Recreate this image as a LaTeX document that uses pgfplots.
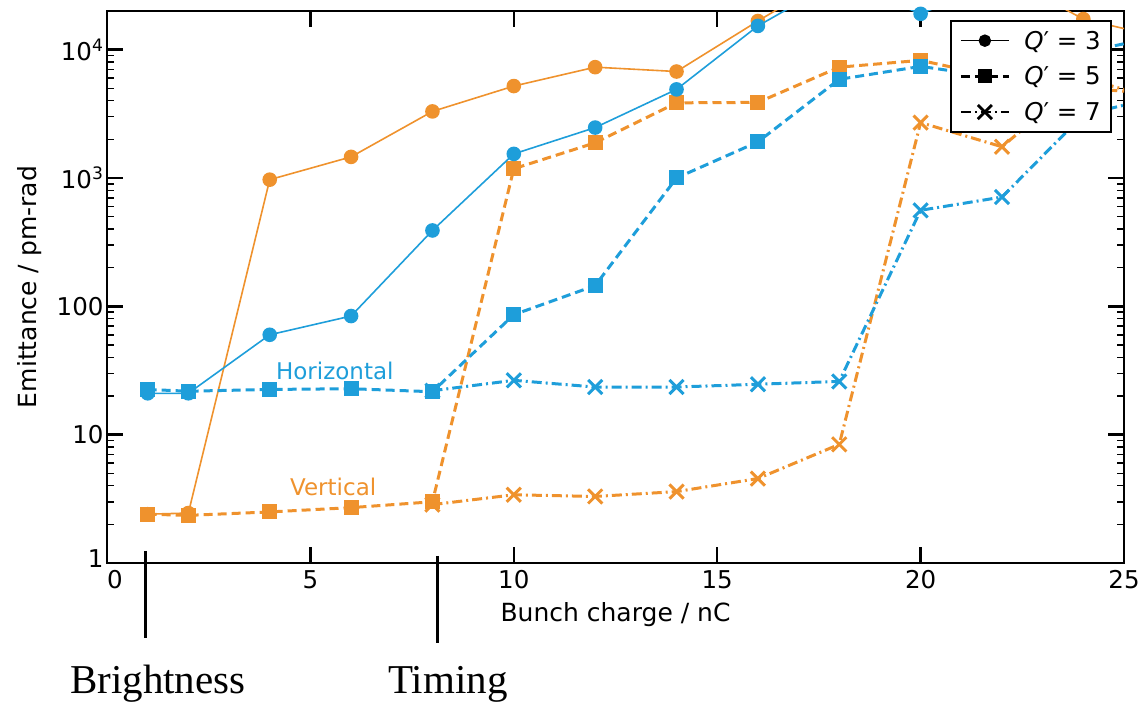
\documentclass[border=0pt]{standalone}
\usepackage{fontspec}
\setmainfont{DejaVu Sans}
\newfontfamily\timesfont{Liberation Serif}
\usepackage{pgfplots}
\pgfplotsset{compat=1.18}
\definecolor{hblue}{RGB}{30,158,218}
\definecolor{vorange}{RGB}{239,146,45}
\newcommand\ff{\fontsize{23}{27}\selectfont}
\newcommand\ft{\fontsize{24.5}{29}\selectfont}
\newcommand\fl{\fontsize{25}{29}\selectfont}
\begin{document}
\begin{tikzpicture}
\useasboundingbox (0,0) rectangle (1142pt,704pt);
\begin{axis}[
  at={(107pt,141pt)}, anchor=south west,
  scale only axis, width=1017pt, height=552pt,
  ymode=log, xmin=0, xmax=25, ymin=1, ymax=20000,
  axis line style={line width=2.5pt},
  /pgf/number format/assume math mode=true,
  xtick={0,5,10,15,20,25},
  ytick={1,10,100,1000,10000},
  yticklabels={\textnormal{\raisebox{9pt}{1}},\textnormal{10},\textnormal{100},\textnormal{10\textsuperscript{3}},\textnormal{10\textsuperscript{4}}},
  xticklabels={\textnormal{\rlap{0}},\textnormal{5},\textnormal{10},\textnormal{15},\textnormal{20},\textnormal{25}},
  tick align=inside,
  major tick length=16pt, minor tick length=7pt,
  every tick/.style={black},
  major tick style={line width=2.5pt},
  minor tick style={line width=1.5pt},
  tick label style={font=\ft},
  xticklabel style={yshift=-4pt},
  xlabel={Bunch charge / nC}, ylabel={Emittance / pm-rad},
  label style={font=\fl},
  xlabel style={yshift=-7pt},
  ylabel style={yshift=8pt},
  clip mode=individual,
  legend cell align=left,
  legend style={at={(0.988,0.984)}, anchor=north east, draw=black, line width=2pt, font=\fontsize{24.5}{28}\selectfont, row sep=12pt, inner sep=8pt,
    /tikz/every odd column/.append style={column sep=12pt}},
  legend image code/.code={\draw[mark repeat=2,mark phase=2] plot coordinates {(0pt,0pt)(24pt,0pt)(48pt,0pt)};},
]
\addlegendimage{black, line width=1.5pt, mark=*, mark size=5.5pt, mark options={solid}}
\addlegendentry{\textit{Q}′ = 3}
\addlegendimage{black, line width=2.8pt, dash pattern=on 9pt off 5pt, mark=square*, mark size=5.5pt, mark options={solid}}
\addlegendentry{\textit{Q}′ = 5}
\addlegendimage{black, line width=2.8pt, dash pattern=on 10pt off 4pt on 2pt off 4pt, mark=x, mark size=10pt, mark options={solid}}
\addlegendentry{\textit{Q}′ = 7}

% Vertical (orange)
\addplot[forget plot, vorange, line width=1.6pt, mark=*, mark size=6.5pt] coordinates {
(1,2.4)(2,2.45)(4,970)(6,1460)(8,3300)(10,5200)(12,7300)(14,6750)(16,16700)(18,40000)(20,40000)(22,38000)(24,17300)(26,12300)};
\addplot[forget plot, vorange, line width=3pt, dash pattern=on 9pt off 5pt, mark=square*, mark size=6pt, mark options={solid}] coordinates {
(1,2.4)(2,2.35)(4,2.5)(6,2.7)(8,3.0)(10,1180)(12,1880)(14,3850)(16,3880)(18,7300)(20,8250)(22,6000)(24,5000)(26,4500)};
\addplot[forget plot, vorange, line width=3pt, dash pattern=on 10pt off 4pt on 2pt off 4pt, mark=x, mark size=10pt, mark options={solid, line width=3pt}] coordinates {
(8,2.85)(10,3.4)(12,3.3)(14,3.6)(16,4.55)(18,8.4)(20,2700)(22,1750)(24,6000)(26,4000)};

% Horizontal (blue)
\addplot[forget plot, hblue, line width=1.6pt, mark=*, mark size=6.5pt] coordinates {
(1,21)(2,21)(4,60)(6,84)(8,390)(10,1540)(12,2470)(14,4900)(16,15300)(18,35000)(20,19000)(22,35000)(24,35000)};
\addplot[forget plot, hblue, line width=3pt, dash pattern=on 9pt off 5pt, mark=square*, mark size=6pt, mark options={solid}] coordinates {
(1,22.5)(2,21.8)(4,22.5)(6,22.8)(8,21.6)(10,86)(12,145)(14,1000)(16,1910)(18,5870)(20,7400)(22,6000)(24,9500)(26,13000)};
\addplot[forget plot, hblue, line width=3pt, dash pattern=on 10pt off 4pt on 2pt off 4pt, mark=x, mark size=10pt, mark options={solid, line width=3pt}] coordinates {
(8,22)(10,26.5)(12,23.5)(14,23.5)(16,24.7)(18,26)(20,560)(22,710)(24,3100)(26,4400)};

\node[hblue, font=\ff] at (axis cs:5.6,31.2) {Horizontal};
\node[vorange, font=\ff] at (axis cs:5.56,3.9) {Vertical};
\end{axis}
\draw[line width=3pt] (145pt,153pt) -- (145pt,66pt);
\draw[line width=3pt] (437pt,148pt) -- (437pt,61pt);
\node[anchor=base west, font=\timesfont\fontsize{41}{46}\selectfont, inner sep=0pt] at (70pt,11pt) {Brightness};
\node[anchor=base west, font=\timesfont\fontsize{41}{46}\selectfont, inner sep=0pt] at (388pt,11pt) {Timing};
\end{tikzpicture}
\end{document}
